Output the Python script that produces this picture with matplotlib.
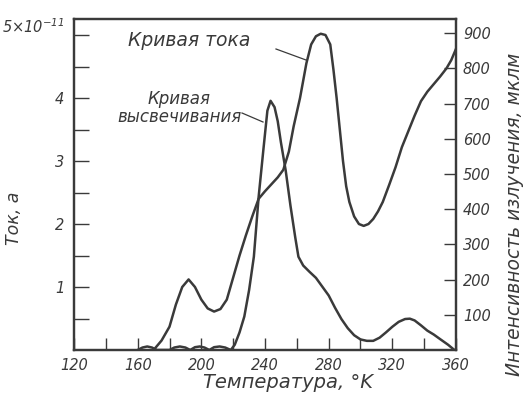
import numpy as np
import matplotlib
matplotlib.use("Agg")
import matplotlib.pyplot as plt

# current curve (left axis, x1e-11 A)
t_cur = [170, 175, 180, 184, 188, 192, 196, 200, 204, 208, 212, 216, 220, 224, 228, 232,
         236, 240, 244, 248, 251.5, 255, 258, 262, 266, 269, 272, 275, 278, 281, 283, 285,
         287, 289, 291, 293, 296, 299, 302, 305, 308, 311, 314, 318, 322, 326, 330, 334,
         338, 342, 346, 350, 354, 357, 360]
i_cur = [0.0, 0.15, 0.37, 0.72, 1.0, 1.12, 1.0, 0.8, 0.66, 0.61, 0.65, 0.8, 1.15, 1.5, 1.82, 2.12,
         2.4, 2.52, 2.63, 2.74, 2.86, 3.15, 3.55, 4.0, 4.55, 4.85, 4.98, 5.02, 5.0, 4.85, 4.45, 4.0,
         3.5, 3.0, 2.6, 2.35, 2.12, 2.0, 1.97, 2.0, 2.08, 2.2, 2.35, 2.62, 2.9, 3.22, 3.47, 3.72,
         3.95, 4.1, 4.22, 4.34, 4.47, 4.6, 4.78]

# glow curve (right axis, mklm)
t_glow = [160, 163, 166, 169, 172, 180, 183, 186.5, 190, 193, 196, 199, 202, 205, 208, 211.5,
          215, 218.5, 221, 224, 227, 230, 233, 236, 239, 241.5, 243.5, 246, 248, 250, 253, 256,
          259, 261, 264, 268, 272, 276, 280, 284, 288, 292, 296, 300, 304, 308, 312, 316, 320,
          324, 328, 331, 334, 338, 342, 346, 350, 355, 359]
i_glow = [0, 7, 10, 7, 0, 0, 7, 10, 7, 0, 8, 10, 7, 0, 8, 10,
          7, 0, 15, 50, 95, 170, 265, 435, 570, 680, 708, 690, 650, 590, 510, 410,
          320, 265, 240, 222, 205, 180, 155, 120, 88, 62, 42, 30, 26, 26, 35, 50, 66,
          80, 88, 89, 84, 70, 55, 44, 31, 15, 0]

x_major = [120, 160, 200, 240, 280, 320, 360]
x_minor = [140, 180, 220, 260, 300, 340]
left_major = [1, 2, 3, 4, 5]
left_labels = ['1', '2', '3', '4', '']
left_minor = [0.5, 1.5, 2.5, 3.5, 4.5]
right_ticks = [100, 200, 300, 400, 500, 600, 700, 800, 900]

ink = '#3a3a3a'
plt.rcParams['font.family'] = 'DejaVu Sans'
plt.rcParams['font.style'] = 'italic'

fig = plt.figure(figsize=(5.26, 3.96), dpi=100)
ax = fig.add_axes([74/526, 1-350/396, 382/526, 331/396])
ax2 = ax.twinx()

ax.plot(t_cur, i_cur, color=ink, lw=1.8)
ax2.plot(t_glow, i_glow, color=ink, lw=1.8)

ax.set_xlim(120, 360)
ax.set_ylim(0, 5.254)
ax2.set_ylim(0, 5.254 * 179.0)

ax.set_xticks(x_major)
ax.set_xticks(x_minor, minor=True)
ax.set_yticks(left_major)
ax.set_yticklabels(left_labels)
ax.set_yticks(left_minor, minor=True)
ax2.set_yticks(right_ticks)

ax.tick_params(axis='x', which='both', direction='in', length=9, width=1, colors=ink,
               labelsize=10.5, pad=6)
ax.tick_params(axis='y', which='both', direction='in', length=11, width=1, colors=ink,
               labelsize=10.5, pad=7)
ax2.tick_params(axis='y', direction='in', length=9, width=1, colors=ink, labelsize=10.5, pad=5)

for a in (ax, ax2):
    for s in a.spines.values():
        s.set_color(ink)
        s.set_linewidth(1.6)

ax.annotate('5×10$^{-11}$', xy=(0, 5), xycoords=('axes fraction', 'data'), xytext=(-7, 6),
            textcoords='offset points', ha='right', va='center', fontsize=10.5, color=ink)

# curve labels
ax.text(189/526, 1-41/396, 'Кривая тока', transform=fig.transFigure, ha='center', va='center',
        fontsize=13.5, color=ink)
ax.text(179/526, 1-108/396, 'Кривая\nвысвечивания', transform=fig.transFigure, ha='center',
        va='center', fontsize=12, color=ink, linespacing=1.0)
fig.add_artist(plt.Line2D([276/526, 306/526], [1-49/396, 1-60/396], color=ink, lw=0.9))
fig.add_artist(plt.Line2D([242/526, 263/526], [1-113/396, 1-122/396], color=ink, lw=0.9))

fig.text(14/526, 1-218/396, 'Ток, а', rotation=90, ha='center', va='center', fontsize=12.5,
         color=ink)
fig.text(515/526, 1-214/396, 'Интенсивность излучения, мклм', rotation=90, ha='center',
         va='center', fontsize=13.5, color=ink)
fig.text(288/526, 1-382/396, 'Температура, °K', ha='center', va='center', fontsize=14,
         color=ink)

fig.savefig('out.png', dpi=100, facecolor='white')
